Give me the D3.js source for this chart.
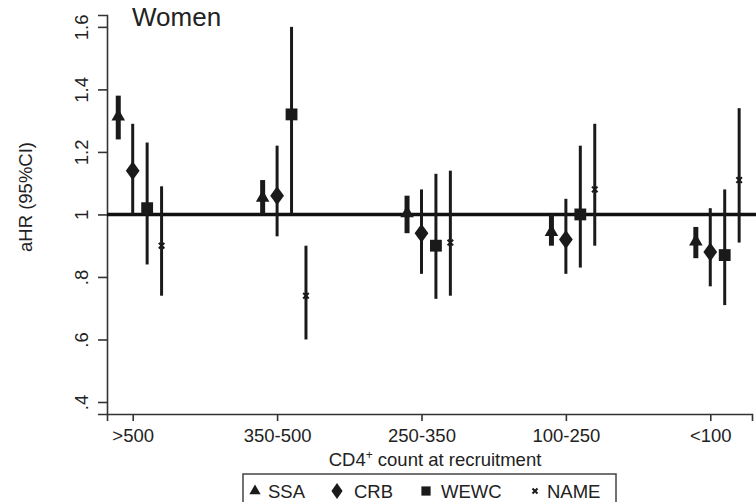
<!DOCTYPE html>
<html><head><meta charset="utf-8">
<script src="https://cdn.jsdelivr.net/npm/d3@7/dist/d3.min.js"></script>
<style>
html,body{margin:0;padding:0;background:#fff;}
svg{display:block;font-family:"Liberation Sans",Arial,Helvetica,sans-serif;}
</style></head>
<body>
<svg id="chart" width="756" height="502"></svg>
<script>
// ---- data ----
const categories = [">500", "350-500", "250-350", "100-250", "<100"];
const seriesNames = ["SSA", "CRB", "WEWC", "NAME"];
const SSA_hr = [1.31, 1.05, 1.00, 0.94, 0.91];
const SSA_lo = [1.24, 1.00, 0.94, 0.90, 0.86];
const SSA_hi = [1.38, 1.11, 1.06, 1.00, 0.96];
const CRB_hr = [1.14, 1.06, 0.94, 0.92, 0.88];
const CRB_lo = [1.00, 0.93, 0.81, 0.81, 0.77];
const CRB_hi = [1.29, 1.22, 1.08, 1.05, 1.02];
const WEWC_hr = [1.02, 1.32, 0.90, 1.00, 0.87];
const WEWC_lo = [0.84, 1.00, 0.73, 0.83, 0.71];
const WEWC_hi = [1.23, 1.60, 1.13, 1.22, 1.08];
const NAME_hr = [0.90, 0.74, 0.91, 1.08, 1.11];
const NAME_lo = [0.74, 0.60, 0.74, 0.90, 0.91];
const NAME_hi = [1.09, 0.90, 1.14, 1.29, 1.34];
const seriesOffset = [-0.1, 0, 0.1, 0.2];
const yTicks = [0.4, 0.6, 0.8, 1, 1.2, 1.4, 1.6];
const yTickLabels = [".4", ".6", ".8", "1", "1.2", "1.4", "1.6"];
const refValue = 1;

const seriesData = [
  {name: "SSA", hr: SSA_hr, lo: SSA_lo, hi: SSA_hi, sym: d3.symbolTriangle, size: 80, lw: 5},
  {name: "CRB", hr: CRB_hr, lo: CRB_lo, hi: CRB_hi, sym: d3.symbolDiamond, size: 105, lw: 3},
  {name: "WEWC", hr: WEWC_hr, lo: WEWC_lo, hi: WEWC_hi, sym: d3.symbolSquare, size: 140, lw: 3},
  {name: "NAME", hr: NAME_hr, lo: NAME_lo, hi: NAME_hi, sym: d3.symbolX, size: 22, lw: 3}
];

const svg = d3.select("#chart");
const ink = "#1a1a1a";
const axisCol = "#333";
const fontSize = 18.5;

const x = d3.scaleLinear().domain([-0.178, 4.289]).range([107, 752]);
const y = d3.scaleLinear().domain([0.3616, 1.638]).range([414, 15]);

// y axis
const yAxis = svg.append("g").attr("transform", "translate(107,0)")
  .call(d3.axisLeft(y).tickValues(yTicks).tickSizeOuter(0).tickSize(9)
    .tickFormat((d, i) => yTickLabels[i]));
yAxis.select(".domain").attr("stroke", axisCol).attr("stroke-width", 1.6);
yAxis.selectAll(".tick line").attr("stroke", axisCol).attr("stroke-width", 1.6);
yAxis.selectAll(".tick text")
  .attr("transform", "rotate(-90)")
  .attr("x", 0).attr("y", -19.5).attr("dy", 0)
  .attr("text-anchor", "middle")
  .attr("fill", "#222")
  .style("font-size", fontSize + "px")
  .style("font-family", "'Liberation Sans',Arial,sans-serif");

// x axis
const xAxis = svg.append("g").attr("transform", "translate(0,414)")
  .call(d3.axisBottom(x).tickValues(d3.range(categories.length)).tickSizeOuter(0).tickSize(7)
    .tickFormat((d, i) => categories[i]));
xAxis.select(".domain").attr("stroke", axisCol).attr("stroke-width", 1.6);
xAxis.selectAll(".tick line").attr("stroke", axisCol).attr("stroke-width", 1.6);
xAxis.selectAll(".tick text")
  .attr("y", 28).attr("dy", 0)
  .attr("fill", "#222")
  .style("font-size", fontSize + "px")
  .style("font-family", "'Liberation Sans',Arial,sans-serif");

// reference line
svg.append("line")
  .attr("x1", 107).attr("x2", 756)
  .attr("y1", y(refValue)).attr("y2", y(refValue))
  .attr("stroke", "#111").attr("stroke-width", 3.5);

// error bars & markers
seriesData.forEach((s, j) => {
  const g = svg.append("g");
  const rows = categories.map((c, i) => ({i, hr: s.hr[i], lo: s.lo[i], hi: s.hi[i]}));
  g.selectAll("line.ci").data(rows).enter().append("line")
    .attr("class", "ci")
    .attr("x1", d => x(d.i + seriesOffset[j])).attr("x2", d => x(d.i + seriesOffset[j]))
    .attr("y1", d => y(d.lo)).attr("y2", d => y(d.hi))
    .attr("stroke", ink).attr("stroke-width", s.lw);
  const sym = d3.symbol().type(s.sym).size(s.size);
  g.selectAll("path.pt").data(rows).enter().append("path")
    .attr("class", "pt")
    .attr("d", sym)
    .attr("transform", d => {
      const dy = s.name === "SSA" ? -1 : 0;
      const sc = s.name === "CRB" ? " scale(1.25,1)" : "";
      return `translate(${x(d.i + seriesOffset[j])},${y(d.hr) + dy})` + sc;
    })
    .attr("fill", ink)
    .attr("stroke", s.name === "NAME" ? ink : "none")
    .attr("stroke-width", s.name === "NAME" ? 2 : 0);
});

// title
svg.append("text").attr("x", 132).attr("y", 26)
  .style("font-size", "26px").attr("fill", "#222").text("Women");

// y label
svg.append("text").attr("transform", "translate(32,197) rotate(-90)")
  .attr("text-anchor", "middle").style("font-size", fontSize + "px").attr("fill", "#222")
  .text("aHR (95%CI)");

// x label
const xl = svg.append("text").attr("x", 435).attr("y", 466)
  .attr("text-anchor", "middle").style("font-size", fontSize + "px").attr("fill", "#222");
xl.append("tspan").text("CD4");
xl.append("tspan").attr("dy", -7).style("font-size", "12px").text("+");
xl.append("tspan").attr("dy", 7).text(" count at recruitment");

// legend
svg.append("rect").attr("x", 243).attr("y", 474).attr("width", 373).attr("height", 40)
  .attr("fill", "#fff").attr("stroke", "#444").attr("stroke-width", 1.5);
const legX = [255, 337, 426, 535];
const legTextX = [268, 354, 441, 547];
const legSizes = [55, 75, 85, 18];
seriesData.forEach((s, j) => {
  svg.append("path")
    .attr("d", d3.symbol().type(s.sym).size(legSizes[j]))
    .attr("transform", `translate(${legX[j]},491)` + (s.name === "CRB" ? " scale(1.2,1)" : ""))
    .attr("fill", ink)
    .attr("stroke", s.name === "NAME" ? ink : "none")
    .attr("stroke-width", s.name === "NAME" ? 2 : 0);
  svg.append("text").attr("x", legTextX[j]).attr("y", 497.5)
    .style("font-size", fontSize + "px").attr("fill", "#222").text(s.name);
});
</script>
</body></html>
